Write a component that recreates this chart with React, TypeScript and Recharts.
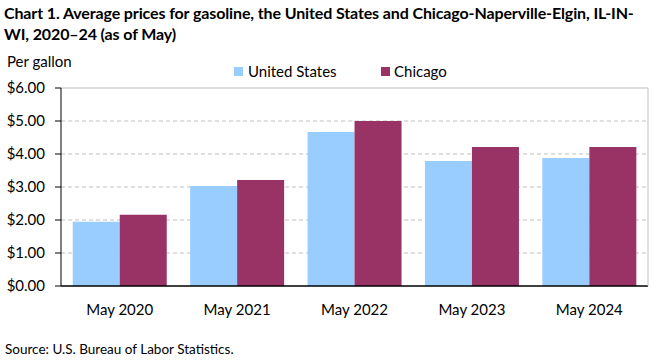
import * as React from "react"
import {
  Bar,
  BarChart,
  CartesianGrid,
  ReferenceLine,
  XAxis,
  YAxis,
} from "recharts"

const months = ["May 2020", "May 2021", "May 2022", "May 2023", "May 2024"]
const unitedStates = [1.95, 3.03, 4.67, 3.79, 3.88]
const chicago = [2.16, 3.21, 5.0, 4.21, 4.21]
const yTicks = [0, 1, 2, 3, 4, 5, 6]

const US_COLOR = "#99ccff"
const CHI_COLOR = "#993366"
const FONT = "Lato, 'Open Sans', sans-serif"

const data = months.map((month, i) => ({
  month,
  us: unitedStates[i],
  chicago: chicago[i],
}))

const money = (v: number) => `$${v.toFixed(2)}`

export default function App() {
  return (
    <div
      style={{
        position: "absolute",
        top: 0,
        left: 0,
        width: 661,
        height: 361,
        background: "#fff",
        fontFamily: FONT,
        color: "#000",
      }}
    >
      <div
        style={{
          position: "absolute",
          left: 4,
          top: 2,
          fontSize: 16,
          fontWeight: 700,
          lineHeight: "21px",
          whiteSpace: "nowrap",
          letterSpacing: -0.12,
        }}
      >
        <div>Chart 1. Average prices for gasoline, the United States and Chicago-Naperville-Elgin, IL-IN-</div>
        <div>WI, 2020–24 (as of May)</div>
      </div>
      <div style={{ position: "absolute", left: 7, top: 52, fontSize: 15 }}>Per gallon</div>

      {/* legend */}
      <div
        style={{
          position: "absolute",
          top: 62,
          left: 234,
          display: "flex",
          alignItems: "center",
          fontSize: 15,
          whiteSpace: "nowrap",
        }}
      >
        <span style={{ width: 9, height: 9, background: US_COLOR, display: "inline-block", marginRight: 5 }} />
        <span style={{ width: 133 }}>United States</span>
        <span style={{ width: 9, height: 9, background: CHI_COLOR, display: "inline-block", marginRight: 4 }} />
        <span>Chicago</span>
      </div>

      <BarChart
        width={661}
        height={361}
        data={data}
        barCategoryGap="10%"
        barGap={0}
        margin={{ top: 88, right: 12, bottom: 45, left: 0 }}
        style={{ position: "absolute", top: 0, left: 0 }}
      >
        <CartesianGrid
          vertical={false}
          horizontalValues={[1, 2, 3, 4, 5]}
          stroke="#c0c0c0"
          strokeDasharray="4 3"
        />
        <ReferenceLine y={6} stroke="#bfbfbf" />
        <XAxis
          dataKey="month"
          axisLine={{ stroke: "#000", strokeWidth: 1.5 }}
          tickLine={false}
          tick={{ fontSize: 15, fill: "#000", fontFamily: FONT }}
          tickMargin={12}
          height={30}
        />
        <YAxis
          domain={[0, 6]}
          ticks={yTicks}
          tickFormatter={money}
          axisLine={{ stroke: "#000" }}
          tickLine={{ stroke: "#000" }}
          tickSize={6}
          tickMargin={10}
          width={61}
          tick={{ fontSize: 15, fill: "#000", fontFamily: FONT }}
          interval={0}
        />
        <YAxis
          yAxisId="right"
          orientation="right"
          domain={[0, 6]}
          tick={false}
          tickLine={false}
          axisLine={{ stroke: "#bfbfbf" }}
          width={1}
        />
        <Bar dataKey="us" name="United States" fill={US_COLOR} isAnimationActive={false} />
        <Bar dataKey="chicago" name="Chicago" fill={CHI_COLOR} isAnimationActive={false} />
      </BarChart>

      <div style={{ position: "absolute", left: 5, top: 341, fontSize: 13.5 }}>
        Source: U.S. Bureau of Labor Statistics.
      </div>
    </div>
  )
}
